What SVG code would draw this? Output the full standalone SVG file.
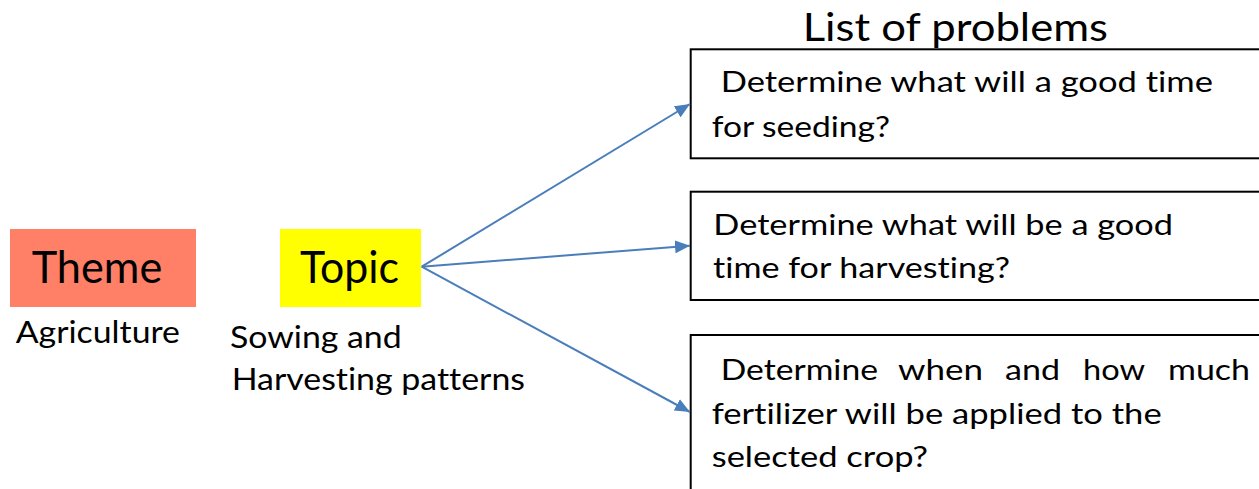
<svg xmlns="http://www.w3.org/2000/svg" width="1259" height="489" viewBox="0 0 1259 489">
<style>
text{font-family:Lato,"Liberation Sans",sans-serif;fill:#000;font-variant-ligatures:none;font-feature-settings:"liga" 0,"clig" 0,"calt" 0,"dlig" 0}
.big{font-size:44px}
.lbl{font-size:31px}
.box{fill:#fff;stroke:#000;stroke-width:2}
.body{font-size:29px}
.title{font-size:38px}
.conn{stroke:#4A7EBB;stroke-width:2;fill:none;marker-end:url(#ah)}
</style>
<defs>
<marker id="ah" markerUnits="userSpaceOnUse" markerWidth="15" markerHeight="13" refX="15" refY="6.5" orient="auto">
<path d="M0,0 L15,6.5 L0,13 z" fill="#4A7EBB"/>
</marker>
</defs>
<rect width="1259" height="489" fill="#fff"/>
<g id="theme">
<rect x="10" y="229" width="186" height="78" fill="#FF8066"/>
<text class="big" x="31.7" y="283.3" textLength="130.6" lengthAdjust="spacingAndGlyphs">Theme</text>
<text class="lbl" x="15.7" y="343.3" textLength="164.3" lengthAdjust="spacingAndGlyphs">Agriculture</text>
</g>
<g id="topic">
<rect x="280" y="229" width="141" height="78" fill="#FFFF00"/>
<text class="big" x="300" y="283.3" textLength="99" lengthAdjust="spacingAndGlyphs">Topic</text>
<text class="lbl" x="230" y="348" textLength="171.7" lengthAdjust="spacingAndGlyphs">Sowing and</text>
<text class="lbl" x="231.7" y="390" textLength="293.3" lengthAdjust="spacingAndGlyphs">Harvesting patterns</text>
</g>
<g id="title">
<text class="title" x="802.7" y="40.7" textLength="305.3" lengthAdjust="spacingAndGlyphs">List of problems</text>
</g>
<g id="problem1">
<rect class="box" x="690.7" y="49.3" width="590" height="109"/>
<text class="body" x="720.7" y="91.7" textLength="492.3" lengthAdjust="spacingAndGlyphs">Determine what will a good time</text>
<text class="body" x="711.7" y="137.3" textLength="178.3" lengthAdjust="spacingAndGlyphs">for seeding?</text>
</g>
<g id="problem2">
<rect class="box" x="690.7" y="191.7" width="590" height="108.3"/>
<text class="body" x="713.3" y="235" textLength="459.7" lengthAdjust="spacingAndGlyphs">Determine what will be a good</text>
<text class="body" x="713" y="278.3" textLength="297" lengthAdjust="spacingAndGlyphs">time for harvesting?</text>
</g>
<g id="problem3">
<rect class="box" x="690.7" y="335" width="590" height="180"/>
<text class="body" x="720.7" y="380" textLength="157.3" lengthAdjust="spacingAndGlyphs">Determine</text>
<text class="body" x="898" y="380" textLength="85" lengthAdjust="spacingAndGlyphs">when</text>
<text class="body" x="1005" y="380" textLength="55" lengthAdjust="spacingAndGlyphs">and</text>
<text class="body" x="1083" y="380" textLength="62" lengthAdjust="spacingAndGlyphs">how</text>
<text class="body" x="1168" y="380" textLength="82" lengthAdjust="spacingAndGlyphs">much</text>
<text class="body" x="711.7" y="424" textLength="450" lengthAdjust="spacingAndGlyphs">fertilizer will be applied to the</text>
<text class="body" x="711.7" y="466.7" textLength="216.3" lengthAdjust="spacingAndGlyphs">selected crop?</text>
</g>
<g id="connectors">
<line class="conn" x1="421.7" y1="266.7" x2="690" y2="104"/>
<line class="conn" x1="421.7" y1="266.7" x2="690" y2="245.7"/>
<line class="conn" x1="421.7" y1="266.7" x2="690" y2="412"/>
</g>
</svg>
